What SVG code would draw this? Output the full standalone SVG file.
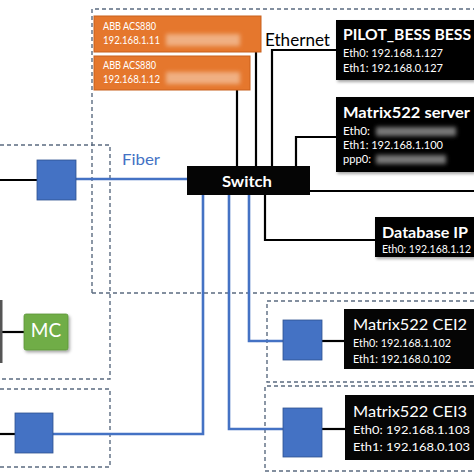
<svg xmlns="http://www.w3.org/2000/svg" width="474" height="474" viewBox="0 0 474 474">
<defs>
<style>
.dash{fill:none;stroke:#5b6b80;stroke-width:1.4;stroke-dasharray:4,3}
.blk{fill:none;stroke:#000;stroke-width:2.2}
.blu{fill:none;stroke:#4472c4;stroke-width:2.6}
.dev{fill:#050505}
.orng{fill:#e5772d;stroke:#c8601c;stroke-width:1}
.sq{fill:#4472c4;stroke:#2f528f;stroke-width:0.8}
text{font-family:Lato,"Open Sans","Liberation Sans",sans-serif}
.t{fill:#fff;font-weight:bold;font-size:16px}
.tn{fill:#fff;font-size:16px}
.s{fill:#fff;font-size:11px}
.s2{fill:#fff;font-size:12px}
.o{fill:#fff;font-size:10.5px}
</style>
<filter id="bl" x="-20%" y="-50%" width="140%" height="200%"><feGaussianBlur stdDeviation="2"/></filter>
<filter id="sh" x="-10%" y="-10%" width="130%" height="140%"><feDropShadow dx="1.5" dy="2" stdDeviation="1.5" flood-color="#000" flood-opacity="0.35"/></filter>
</defs>
<rect width="474" height="474" fill="#fff"/>

<g id="zones">
<path class="dash" d="M92 293 V9 H474"/>
<path class="dash" d="M92 293 H474"/>
<path class="dash" d="M0 145 H110 V379 H0"/>
<path class="dash" d="M0 389 H110 V467 H0"/>
<path class="dash" d="M474 301 H267 V382 H474"/>
<path class="dash" d="M474 386 H265 V471 H474"/>
</g>

<g id="connectors">
<path class="blk" d="M256 52 V166"/>
<path class="blk" d="M237 90 V166"/>
<path class="blk" d="M272 166 V50 H336"/>
<path class="blk" d="M296 166 V137 H336"/>
<path class="blk" d="M310 191 H474"/>
<path class="blk" d="M265 195 V240 H375"/>
<path class="blk" d="M0 180 H37"/>
<path class="blk" d="M0 332 H24"/>
<path class="blk" d="M0 434 H15"/>
<path class="blk" d="M322 341 H344"/>
<path class="blk" d="M322 429 H345"/>
<path class="blu" d="M76 179 H187"/>
<path class="blu" d="M203 195 V434 H53"/>
<path class="blu" d="M229 195 V429 H283"/>
<path class="blu" d="M249 195 V341 H283"/>
<text x="122" y="165" font-size="16" fill="#4472c4" textLength="38" lengthAdjust="spacingAndGlyphs">Fiber</text>
<text x="265" y="46" font-size="17" fill="#000" textLength="65" lengthAdjust="spacingAndGlyphs">Ethernet</text>
</g>

<g id="abb1">
<rect class="orng" x="94" y="16" width="167" height="36"/>
<rect x="166" y="34" width="74" height="12" fill="#f4c7a6" opacity="0.7" filter="url(#bl)"/>
<text class="o" x="103" y="30" textLength="53" lengthAdjust="spacingAndGlyphs">ABB ACS880</text>
<text class="o" x="103" y="44" textLength="57" lengthAdjust="spacingAndGlyphs">192.168.1.11</text>
</g>
<g id="abb2">
<rect class="orng" x="94" y="56" width="156" height="34"/>
<rect x="166" y="72" width="74" height="12" fill="#f4c7a6" opacity="0.7" filter="url(#bl)"/>
<text class="o" x="103" y="69" textLength="53" lengthAdjust="spacingAndGlyphs">ABB ACS880</text>
<text class="o" x="103" y="83" textLength="57" lengthAdjust="spacingAndGlyphs">192.168.1.12</text>
</g>

<g id="switch">
<rect class="dev" x="187" y="166" width="123" height="29"/>
<text x="222" y="187" fill="#fff" font-weight="bold" font-size="16" textLength="50" lengthAdjust="spacingAndGlyphs">Switch</text>
</g>

<g id="pilot">
<rect class="dev" x="336" y="20" width="138" height="60" filter="url(#sh)"/>
<text class="t" x="343" y="40" textLength="128" lengthAdjust="spacingAndGlyphs">PILOT_BESS BESS</text>
<text class="s" x="343" y="57" textLength="100" lengthAdjust="spacingAndGlyphs">Eth0: 192.168.1.127</text>
<text class="s" x="343" y="72" textLength="100" lengthAdjust="spacingAndGlyphs">Eth1: 192.168.0.127</text>
</g>

<g id="server">
<rect class="dev" x="336" y="97" width="138" height="75" filter="url(#sh)"/>
<text class="t" x="343" y="118" textLength="127" lengthAdjust="spacingAndGlyphs">Matrix522 server</text>
<text class="s" x="343" y="135" textLength="27" lengthAdjust="spacingAndGlyphs">Eth0:</text>
<rect x="376" y="127" width="80" height="9" fill="#777" filter="url(#bl)"/>
<text class="s" x="343" y="149" textLength="100" lengthAdjust="spacingAndGlyphs">Eth1: 192.168.1.100</text>
<text class="s" x="343" y="163" textLength="28" lengthAdjust="spacingAndGlyphs">ppp0:</text>
<rect x="376" y="155" width="70" height="9" fill="#777" filter="url(#bl)"/>
</g>

<g id="database">
<rect class="dev" x="375" y="217" width="99" height="40" filter="url(#sh)"/>
<text class="t" x="382" y="238" font-size="15.5" textLength="86" lengthAdjust="spacingAndGlyphs">Database IP</text>
<text class="s" x="382" y="253" font-size="10.5" textLength="89" lengthAdjust="spacingAndGlyphs">Eth0: 192.168.1.12</text>
</g>

<g id="converter-top">
<rect class="sq" x="37" y="160" width="39" height="40"/>
</g>

<g id="mc">
<rect x="0" y="300" width="2.5" height="63" fill="#555"/>
<rect x="24" y="314" width="44" height="36" rx="2" fill="#70ad47" stroke="#5c9438" stroke-width="0.8" filter="url(#sh)"/>
<text x="46" y="337" text-anchor="middle" fill="#fff" font-size="19">MC</text>
</g>

<g id="converter-bottom">
<rect class="sq" x="15" y="413" width="38" height="40"/>
</g>

<g id="cei2">
<rect class="sq" x="283" y="320" width="39" height="40"/>
<rect class="dev" x="344" y="309" width="130" height="60"/>
<text class="tn" x="353" y="330" textLength="114" lengthAdjust="spacingAndGlyphs">Matrix522 CEI2</text>
<text class="s2" x="353" y="347" textLength="98" lengthAdjust="spacingAndGlyphs">Eth0: 192.168.1.102</text>
<text class="s2" x="353" y="363" textLength="98" lengthAdjust="spacingAndGlyphs">Eth1: 192.168.0.102</text>
</g>

<g id="cei3">
<rect class="sq" x="283" y="408" width="39" height="49"/>
<rect class="dev" x="345" y="395" width="129" height="65"/>
<text class="tn" x="353" y="417" textLength="114" lengthAdjust="spacingAndGlyphs">Matrix522 CEI3</text>
<text class="s2" x="353" y="434" font-size="13.5" textLength="117" lengthAdjust="spacingAndGlyphs">Eth0: 192.168.1.103</text>
<text class="s2" x="353" y="451" font-size="13.5" textLength="117" lengthAdjust="spacingAndGlyphs">Eth1: 192.168.0.103</text>
</g>
</svg>
